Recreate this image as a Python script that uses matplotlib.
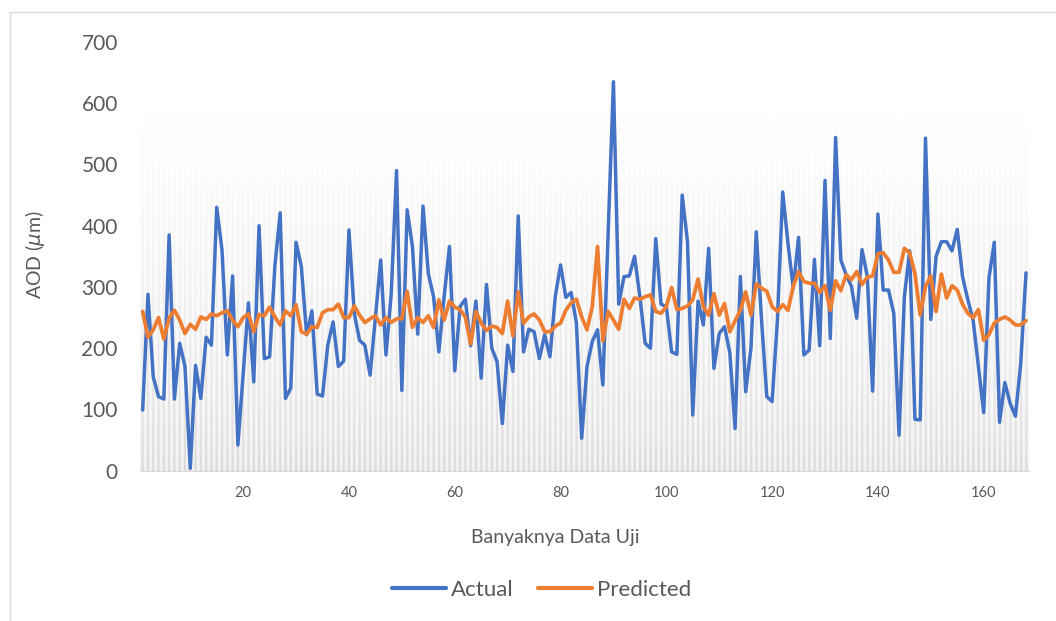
import numpy as np
import matplotlib
matplotlib.use("Agg")
import matplotlib.pyplot as plt
from matplotlib.lines import Line2D

plt.rcParams['font.family'] = ['Lato', 'DejaVu Sans']

actual = [
    99, 288, 153, 121, 117, 385, 117, 208, 170, 4,
    172, 118, 218, 205, 430, 360, 189, 318, 42, 159,
    274, 145, 400, 183, 186, 335, 421, 118, 135, 373,
    333, 222, 261, 125, 122, 205, 243, 170, 179, 393,
    257, 213, 205, 156, 251, 344, 189, 290, 490, 131,
    426, 366, 223, 432, 322, 284, 194, 285, 366, 163,
    268, 280, 204, 277, 151, 304, 200, 178, 77, 205,
    162, 416, 194, 231, 227, 183, 222, 186, 284, 336,
    283, 291, 241, 53, 170, 211, 230, 140, 387, 635,
    272, 317, 318, 350, 284, 208, 200, 379, 272, 268,
    194, 190, 450, 374, 91, 277, 238, 363, 167, 224,
    235, 193, 69, 317, 129, 200, 390, 246, 121, 113,
    246, 455, 371, 298, 381, 189, 197, 345, 204, 474,
    216, 544, 344, 320, 301, 249, 361, 317, 130, 419,
    295, 295, 257, 58, 284, 359, 84, 83, 543, 247,
    350, 374, 374, 359, 394, 317, 279, 246, 170, 95,
    315, 373, 79, 144, 110, 89, 175, 323,
]

predicted = [
    260, 218, 230, 250, 215, 249, 262, 246, 224, 239,
    231, 251, 247, 256, 253, 258, 261, 246, 235, 250,
    256, 227, 255, 253, 267, 251, 238, 261, 253, 271,
    227, 223, 235, 234, 258, 263, 263, 272, 250, 250,
    269, 254, 242, 248, 253, 238, 250, 242, 248, 248,
    293, 234, 250, 242, 253, 234, 279, 246, 277, 267,
    263, 251, 207, 260, 241, 229, 236, 234, 224, 277,
    220, 292, 241, 251, 256, 246, 227, 227, 236, 241,
    262, 274, 280, 251, 230, 268, 366, 212, 260, 246,
    231, 280, 265, 282, 280, 284, 287, 260, 257, 268,
    299, 263, 265, 269, 279, 313, 268, 254, 289, 254,
    273, 227, 245, 262, 292, 254, 305, 298, 293, 268,
    260, 271, 262, 301, 325, 309, 306, 306, 291, 302,
    262, 310, 294, 320, 312, 325, 304, 316, 318, 354,
    356, 344, 324, 324, 363, 356, 322, 254, 301, 318,
    260, 321, 282, 302, 295, 272, 257, 250, 263, 213,
    222, 241, 247, 251, 246, 238, 238, 245,
]

x_ticks = [20, 40, 60, 80, 100, 120, 140, 160]
y_ticks = [0, 100, 200, 300, 400, 500, 600, 700]

n = len(actual)
x = np.arange(1, n + 1)

fig = plt.figure(figsize=(10.56, 6.21), dpi=100)
ax = fig.add_axes([0.1326, 0.2420, 0.8415, 0.6904])

# striped grey backdrop that fades out towards the top
sub = 10
pattern = np.zeros(sub)
pattern[3:7] = 1
stripe = np.tile(pattern, n)[None, :]
t = np.linspace(0, 1, 300)[:, None]
fade = t ** 0.6
gap_val = 0.945 + 0.054 * fade
stripe_val = 0.84 + 0.158 * fade
val = gap_val * (1 - stripe) + stripe_val * stripe
ax.imshow(val, cmap='gray', vmin=0, vmax=1, origin='lower', aspect='auto',
          extent=(0.5, n + 0.5, 0, 600), zorder=0)

ax.plot(x, actual, color='#4472C4', lw=2.5, solid_joinstyle='round',
        solid_capstyle='round', label='Actual', zorder=3)
ax.plot(x, predicted, color='#ED7D31', lw=2.7, solid_joinstyle='round',
        solid_capstyle='round', label='Predicted', zorder=4)

ax.set_xlim(0.5, n + 0.5)
ax.set_ylim(0, 700)
ax.set_xticks(x_ticks)
ax.set_yticks(y_ticks)
for s in ['top', 'right', 'left']:
    ax.spines[s].set_visible(False)
ax.spines['bottom'].set_color('#d9d9d9')
ax.spines['bottom'].set_zorder(5)
ax.tick_params(axis='both', length=0, labelcolor='#595959')
ax.tick_params(axis='y', labelsize=15, pad=16)
ax.tick_params(axis='x', labelsize=10.5, pad=11)

fig.text(0.033, 1 - 255 / 621, r'AOD ($\mu$m)', rotation=90, ha='center',
         va='center', fontsize=14, color='#595959')
fig.text(555.5 / 1056, 1 - 538 / 621, 'Banyaknya Data Uji', ha='center',
         va='center', fontsize=14, color='#595959')

leg = fig.legend(loc='center', bbox_to_anchor=(542 / 1056, 1 - 590 / 621),
                 ncol=2, frameon=False, fontsize=16, handlelength=2.4,
                 handletextpad=0.25, columnspacing=1.1)
for txt in leg.get_texts():
    txt.set_color('#595959')
for h in leg.legend_handles:
    h.set_linewidth(3)

# chart frame edges
fig.add_artist(Line2D([9.5 / 1056, 9.5 / 1056], [0, 1 - 11.5 / 621],
                      color='#d9d9d9', lw=1))
fig.add_artist(Line2D([9.5 / 1056, 1], [1 - 11.5 / 621, 1 - 11.5 / 621],
                      color='#d9d9d9', lw=1))

fig.savefig('out.png', dpi=100)
